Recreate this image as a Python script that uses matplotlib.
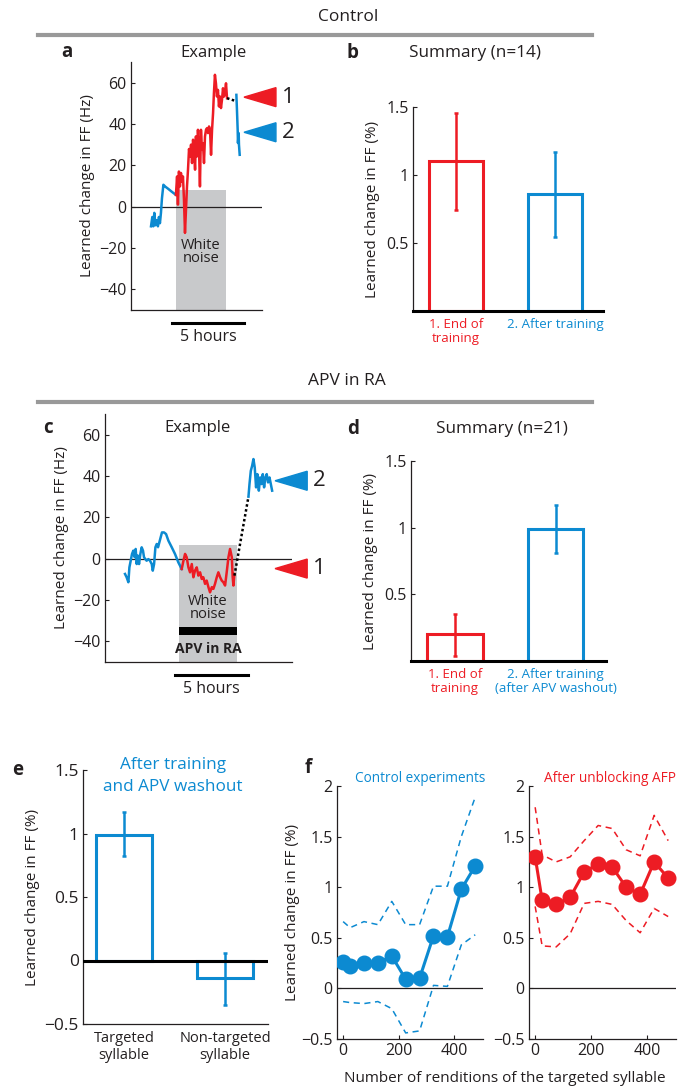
import matplotlib
matplotlib.use("Agg")
import matplotlib.pyplot as plt
from matplotlib.patches import Rectangle, Polygon

plt.rcParams['font.family'] = ['Open Sans', 'DejaVu Sans']

W, H = 682, 1090
RED = '#ED1C24'
BLUE = '#0C8AD1'
GRAY_BOX = '#C8C9CB'
DARK = '#231F20'

# ---------------- data ----------------
# panel a (time in hours, learned change in Hz)
a_pre_t = [1.39, 1.48, 1.55, 1.62, 1.69, 1.78, 1.87, 1.94, 2.01, 2.08, 2.15, 2.25, 2.38, 2.59, 2.82, 3.12]
a_pre_v = [-9.5, -5, -9.5, -3, -9, -6.5, -9.5, -5, -8, -3, 4, 10.6, 9.7, 8.6, 7.3, 5.7]
a_wn_t = [3.12, 3.20, 3.26, 3.33, 3.40, 3.47, 3.54, 3.61, 3.68, 3.75, 3.82, 3.89, 3.96, 4.03, 4.10,
          4.17, 4.24, 4.31, 4.38, 4.45, 4.51, 4.58, 4.65, 4.72, 4.79, 4.86, 4.93, 5.00, 5.07, 5.14,
          5.21, 5.28, 5.35, 5.42, 5.49, 5.56, 5.63, 5.70, 5.76, 5.83, 5.90, 5.97, 6.04, 6.11, 6.18,
          6.25, 6.32, 6.39, 6.46, 6.53, 6.60, 6.67]
a_wn_v = [5.7, 14.6, 1, 17, 9.8, 16.3, 12.2, 14.6, 3.4, -12.7, -1.5, 9.8, 17.9, 27.9, 24.3,
          30, 21.1, 32.4, 27.5, 17.9, 34, 24.3, 37.2, 29.1, 9.8, 37.2, 27.5, 30.7, 21.1, 34,
          37.2, 38, 35.6, 38.8, 37.2, 25.1, 37.2, 45.2, 54.9, 63.8, 59.7, 53.3, 56.5, 48.5, 53.3,
          47.7, 51.7, 57.3, 53.3, 55.7, 59.7, 52.5]
a_gap_t = [6.67, 7.32]
a_gap_v = [52.5, 51.0]
a_post_t = [7.32, 7.36, 7.41, 7.43, 7.48, 7.50, 7.55]
a_post_v = [54.1, 46.9, 37.2, 30.8, 35.6, 30.0, 25.1]
a_marker_1 = 53
a_marker_2 = 36

# panel b
b_labels = ['1. End of\ntraining', '2. After training']
b_vals = [1.10, 0.86]
b_err_lo = [0.74, 0.545]
b_err_hi = [1.455, 1.17]

# panel c
c_pre_t = [1.37, 1.48, 1.60, 1.67, 1.76, 1.85, 1.94, 2.03, 2.10, 2.17, 2.24, 2.33, 2.42, 2.51, 2.60,
           2.67, 2.76, 2.85, 2.97, 3.08, 3.20, 3.27, 3.36, 3.45, 3.54, 3.63, 3.72, 3.81, 3.90, 4.04,
           4.18, 4.34, 4.57, 4.79, 5.02, 5.25]
c_pre_v = [-7.4, -9, -11.4, -4.2, -1, 2.3, 3.9, 0.7, 4.7, -2.6, 1.5, -2.6, 2.3, 5.5, 3.9,
           0.7, -0.2, -1, -0.2, -1, -2.6, -5.8, -2.6, 5.5, 7.1, 5.5, 7.9, 10.3, 12.7, 12.7,
           11.9, 8.7, 5.5, 2.3, -1.8, -5]
c_wn_t = [5.25, 5.37, 5.48, 5.59, 5.71, 5.82, 5.94, 6.05, 6.16, 6.28, 6.39, 6.51, 6.62, 6.73, 6.85,
          6.96, 7.08, 7.19, 7.31, 7.42, 7.53, 7.65, 7.76, 7.88, 7.99, 8.10, 8.22, 8.33, 8.45, 8.56,
          8.68, 8.74, 8.79, 8.86]
c_wn_v = [-5, -1, 2.3, 0.7, -4.2, -6.6, -2.6, -9, -5.8, -4.2, -8.2, -6.6, -9.8, -9, -12.2,
          -10.6, -13.8, -16.3, -13.8, -14.6, -12.2, -9, -6.6, -9, -10.6, -11.4, -13, -6.6, 0.7, 4.7,
          0.7, -9, -13, -7.4]
c_gap_t = [8.86, 9.82]
c_gap_v = [-8.2, 30]
c_post_t = [9.82, 9.89, 9.98, 10.07, 10.16, 10.25, 10.34, 10.43, 10.53, 10.62, 10.71, 10.80, 10.89,
            10.98, 11.07, 11.16, 11.26, 11.35, 11.44]
c_post_v = [30, 36.1, 42.5, 44.9, 48.2, 44.1, 34.5, 40.9, 32.9, 39.3, 36.1, 40.9, 34.5,
            39.3, 40.9, 36.9, 39.3, 36.1, 32.9]
c_marker_1 = -4.8
c_marker_2 = 37.7

# panel d
d_labels = ['1. End of\ntraining', '2. After training\n(after APV washout)']
d_vals = [0.20, 0.99]
d_err_lo = [0.04, 0.81]
d_err_hi = [0.35, 1.17]

# panel e
e_labels = ['Targeted\nsyllable', 'Non-targeted\nsyllable']
e_vals = [0.99, -0.14]
e_err_lo = [0.82, -0.35]
e_err_hi = [1.17, 0.06]

# panel f
f_x = [0, 25, 75, 125, 175, 225, 275, 325, 375, 425, 475]
f_ctrl = [0.26, 0.22, 0.25, 0.25, 0.32, 0.09, 0.10, 0.52, 0.51, 0.98, 1.21]
f_ctrl_hi = [0.66, 0.60, 0.66, 0.63, 0.86, 0.63, 0.63, 1.01, 1.01, 1.50, 1.89]
f_ctrl_lo = [-0.13, -0.14, -0.15, -0.13, -0.20, -0.44, -0.42, 0.03, 0.02, 0.43, 0.53]
f_afp = [1.30, 0.87, 0.83, 0.90, 1.15, 1.23, 1.20, 1.00, 0.93, 1.25, 1.09]
f_afp_hi = [1.79, 1.32, 1.25, 1.30, 1.46, 1.61, 1.58, 1.37, 1.31, 1.71, 1.46]
f_afp_lo = [0.81, 0.42, 0.41, 0.54, 0.84, 0.86, 0.83, 0.67, 0.55, 0.79, 0.71]

# ---------------- figure ----------------
fig = plt.figure(figsize=(W / 100, H / 100), dpi=100)

TICK = 11.5
YLAB = 11


def px_axes(l, t, r, b):
    return fig.add_axes([l / W, 1 - b / H, (r - l) / W, (b - t) / H])


def ftext(x, y, s, **kw):
    kw.setdefault('ha', 'center')
    kw.setdefault('va', 'center')
    return fig.text(x / W, 1 - y / H, s, **kw)


def hline_px(x0, x1, y, lw, color):
    fig.add_artist(plt.Line2D([x0 / W, x1 / W], [1 - y / H, 1 - y / H], lw=lw, color=color,
                              transform=fig.transFigure))


def style(ax):
    for s in ['top', 'right']:
        ax.spines[s].set_visible(False)
    ax.spines['left'].set_color(DARK)
    ax.spines['left'].set_linewidth(0.9)
    ax.spines['bottom'].set_color(DARK)
    ax.spines['bottom'].set_linewidth(0.9)
    ax.tick_params(direction='in', length=3, width=0.8, colors=DARK, labelsize=TICK, pad=3)
    ax.patch.set_alpha(0)


# Section headers
ftext(348, 17, 'Control', fontsize=12.5, color=DARK)
hline_px(38, 592, 35, 3, '#999999')
ftext(347, 381, 'APV in RA', fontsize=12.5, color=DARK)
hline_px(38, 592, 402, 3, '#999999')


def trace_panel(ax, pre_t, pre_v, wn_t, wn_v, gap_t, gap_v, post_t, post_v, box, m1, m2, tri, lab_x,
                bar_t):
    ax.add_patch(Rectangle((box[0], -50), box[1] - box[0], box[2] + 50, color=GRAY_BOX, lw=0, zorder=0))
    ax.axhline(0, color=DARK, lw=0.9, zorder=1)
    ax.plot(pre_t, pre_v, color=BLUE, lw=1.8, zorder=3)
    ax.plot(wn_t, wn_v, color=RED, lw=1.8, zorder=3)
    ax.plot(gap_t, gap_v, color='black', lw=1.8, ls=(0, (1, 1)), zorder=3)
    ax.plot(post_t, post_v, color=BLUE, lw=1.8, zorder=3)
    for yv, col, lab in [(m1, RED, '1'), (m2, BLUE, '2')]:
        ax.add_patch(Polygon([[tri[0], yv], [tri[1], yv + 4.6], [tri[1], yv - 4.6]], closed=True,
                             color=col, clip_on=False, zorder=4))
        ax.text(lab_x, yv, lab, fontsize=16, ha='center', va='center', color=DARK, clip_on=False)
    ax.set_ylim(-50, 70)
    ax.set_yticks([-40, -20, 0, 20, 40, 60])
    ax.set_yticklabels(['\u221240', '\u221220', '0', '20', '40', '60'])
    ax.set_xticks([])
    ax.set_ylabel('Learned change in FF (Hz)', fontsize=YLAB, color=DARK, labelpad=3)
    trans = ax.get_xaxis_transform()
    ax.plot(bar_t, [-0.052, -0.052], color='black', lw=2.2, transform=trans, clip_on=False)
    ax.text(sum(bar_t) / 2, -0.108, '5 hours', transform=trans, ha='center', va='center',
            fontsize=11.5, color=DARK)


# ---------- panel a ----------
axa = px_axes(131, 62, 262, 310)
style(axa)
axa.set_xlim(0, 9.1)
trace_panel(axa, a_pre_t, a_pre_v, a_wn_t, a_wn_v, a_gap_t, a_gap_v, a_post_t, a_post_v,
            (3.12, 6.6, 8.2), a_marker_1, a_marker_2, (7.85, 10.07), 10.9, (2.85, 7.85))
axa.text(4.85, -22, 'White\nnoise', ha='center', va='center', fontsize=10.5, color=DARK, linespacing=0.85)
ftext(67, 52, 'a', fontsize=13.5, fontweight='bold', color=DARK)
ftext(213, 53, 'Example', fontsize=12, color=DARK)

# ---------- panel c ----------
axc = px_axes(105, 414, 292, 662)
style(axc)
axc.set_xlim(0, 12.8)
trace_panel(axc, c_pre_t, c_pre_v, c_wn_t, c_wn_v, c_gap_t, c_gap_v, c_post_t, c_post_v,
            (5.07, 9.04, 6.8), c_marker_1, c_marker_2, (11.64, 13.84), 14.66, (4.79, 9.79))
axc.add_patch(Rectangle((5.07, -37), 9.04 - 5.07, 3.9, color='black', lw=0, zorder=2))
axc.text(7.05, -24, 'White\nnoise', ha='center', va='center', fontsize=10.5, color=DARK, linespacing=0.85)
axc.text(7.05, -43.5, 'APV in RA', ha='center', va='center', fontsize=10, fontweight='bold', color=DARK)
ftext(48, 428, 'c', fontsize=13.5, fontweight='bold', color=DARK)
ftext(197, 428, 'Example', fontsize=12, color=DARK)


# ---------- bar panels ----------
def bar_panel(ax, vals, lo, hi, colors, labels, xlim, label_colors, lab_size=9.5):
    x = [1, 2]
    ax.bar(x, vals, width=0.55, fill=False, edgecolor=colors, linewidth=2.2, zorder=2)
    for xi, v, l, h, c in zip(x, vals, lo, hi, colors):
        ax.errorbar([xi], [v], yerr=[[v - l], [h - v]], fmt='none', ecolor=c, elinewidth=1.8,
                    capsize=1.6, capthick=1.8, zorder=3)
    ax.set_xlim(*xlim)
    ax.set_xticks(x)
    ax.set_xticklabels(labels, fontsize=lab_size, linespacing=1.15)
    for t, c in zip(ax.get_xticklabels(), label_colors):
        t.set_color(c)
    ax.tick_params(axis='x', length=0, pad=5)


axb = px_axes(413, 107, 603, 311)
style(axb)
bar_panel(axb, b_vals, b_err_lo, b_err_hi, [RED, BLUE], b_labels, (0.565, 2.485), [RED, BLUE])
axb.set_ylim(0, 1.5)
axb.set_yticks([0.5, 1, 1.5])
axb.set_yticklabels(['0.5', '1', '1.5'])
axb.spines['bottom'].set_linewidth(2.2)
axb.spines['bottom'].set_color('black')
axb.set_ylabel('Learned change in FF (%)', fontsize=YLAB, color=DARK, labelpad=5)
ftext(353, 53, 'b', fontsize=13.5, fontweight='bold', color=DARK)
ftext(475, 53, 'Summary (n=14)', fontsize=12.3, color=DARK)

axd = px_axes(411, 461, 606, 661)
style(axd)
bar_panel(axd, d_vals, d_err_lo, d_err_hi, [RED, BLUE], d_labels, (0.565, 2.5), [RED, BLUE])
axd.set_ylim(0, 1.5)
axd.set_yticks([0.5, 1, 1.5])
axd.set_yticklabels(['0.5', '1', '1.5'])
axd.spines['bottom'].set_linewidth(2.2)
axd.spines['bottom'].set_color('black')
axd.set_ylabel('Learned change in FF (%)', fontsize=YLAB, color=DARK, labelpad=5)
ftext(353, 429, 'd', fontsize=13.5, fontweight='bold', color=DARK)
ftext(502, 429, 'Summary (n=21)', fontsize=12.3, color=DARK)

axe = px_axes(83, 770, 268, 1024)
style(axe)
bar_panel(axe, e_vals, e_err_lo, e_err_hi, [BLUE, BLUE], e_labels, (0.594, 2.426), [DARK, DARK],
          lab_size=10.5)
axe.axhline(0, color='black', lw=2.2, zorder=4)
axe.set_ylim(-0.5, 1.5)
axe.set_yticks([-0.5, 0, 0.5, 1, 1.5])
axe.set_yticklabels(['\u22120.5', '0', '0.5', '1', '1.5'])
axe.tick_params(axis='y', labelsize=12.5)
axe.set_ylabel('Learned change in FF (%)', fontsize=YLAB, color=DARK, labelpad=3)
ftext(18, 770, 'e', fontsize=13.5, fontweight='bold', color=DARK)
ftext(173, 765, 'After training', fontsize=12.3, color=BLUE)
ftext(173, 787, 'and APV washout', fontsize=12.3, color=BLUE)

# ---------- panel f ----------
for (l, r), mean, hi, lo, col, title, tx in [((337, 483), f_ctrl, f_ctrl_hi, f_ctrl_lo, BLUE,
                                              'Control experiments', 420),
                                             ((529, 676), f_afp, f_afp_hi, f_afp_lo, RED,
                                              'After unblocking AFP', 610)]:
    ax = px_axes(l, 786, r, 1039)
    style(ax)
    ax.axhline(0, color=DARK, lw=0.9, zorder=1)
    ax.plot(f_x, hi, color=col, lw=1.1, ls=(0, (4, 3)))
    ax.plot(f_x, lo, color=col, lw=1.1, ls=(0, (4, 3)))
    ax.plot(f_x, mean, color=col, lw=2.2, marker='o', markersize=10.5, zorder=3)
    ax.set_xlim(-22, 503)
    ax.set_ylim(-0.5, 2)
    ax.set_xticks([0, 200, 400])
    ax.set_yticks([-0.5, 0, 0.5, 1, 1.5, 2])
    ax.set_yticklabels(['\u22120.5', '0', '0.5', '1', '1.5', '2'])
    ax.tick_params(labelsize=11.5)
    ftext(tx, 779, title, fontsize=9.8, color=col)
    if l == 337:
        ax.set_ylabel('Learned change in FF (%)', fontsize=YLAB, color=DARK, labelpad=1)

ftext(308, 768, 'f', fontsize=13.5, fontweight='bold', color=DARK)
ftext(505, 1078, 'Number of renditions of the targeted syllable', fontsize=11, color=DARK)

fig.savefig('out.png', dpi=100)
